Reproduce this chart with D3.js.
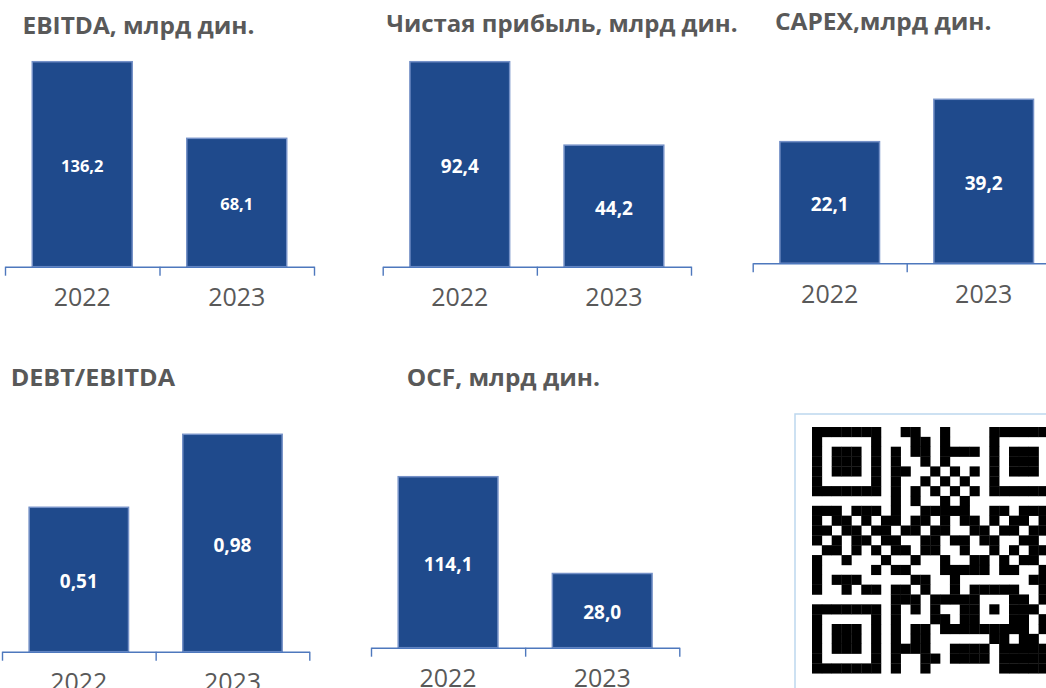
<!DOCTYPE html>
<html>
<head>
<meta charset="utf-8">
<script src="https://cdnjs.cloudflare.com/ajax/libs/d3/7.8.5/d3.min.js"></script>
<style>
    body { margin: 0; background: #fff; }
    #svg_map { width: 1046px; height: 688px; overflow: hidden; }
</style>
</head>
<body>
<div id="svg_map"></div>
<script>
// данные
var years = ["2022", "2023"];
var titles = ["EBITDA, млрд дин.", "Чистая прибыль, млрд дин.", "CAPEX,млрд дин.", "DEBT/EBITDA", "OCF, млрд дин."];
var ebitda = [136.2, 68.1];
var netProfit = [92.4, 44.2];
var capex = [22.1, 39.2];
var debtEbitda = [0.51, 0.98];
var ocf = [114.1, 28.0];
var axisMin = [-46, -26, -27, -0.42, -38];   // ось не от нуля
var decimals = [1, 1, 1, 2, 1];

// QR-код 25x25, справа обрезан краем
var qrRows = [
    "1111111001100100001111111",
    "1000001000110100001000001",
    "1011101010110111101011101",
    "1011101010010100001011101",
    "1011101011001010101011101",
    "1000001010010101001000001",
    "1111111010101010101111111",
    "0000000010100101000000000",
    "1110111010011111001101110",
    "1011010110110101101011010",
    "1101101101101100110110110",
    "1010110110011011011001101",
    "0110101011011001001010110",
    "1001000100100100110101101",
    "1000001011000111110110011",
    "1011100000110010000000111",
    "1001011011010010111110011",
    "0000000011101111100011010",
    "1111111010101001101011101",
    "1000001010001101100011010",
    "1011101010110111111111011",
    "1011101010110000001101100",
    "1011101011110011110111111",
    "1000001010011011110111110",
    "1111111010010000000111111"
];

// расположение панелей
var panels = [
    {values: ebitda,     x0: 5,     x1: 314,    axisY: 266.7, top: 61.7,  titleX: 22.5,  titleY: 33.5,  tw: 232,   vSize: 16.5},
    {values: netProfit,  x0: 382.7, x1: 691,    axisY: 266.7, top: 61.7,  titleX: 386.5, titleY: 31.7,  tw: 351,   vSize: 19},
    {values: capex,      x0: 752.7, x1: 1060.7, axisY: 263.3, top: 99.3,  titleX: 775,   titleY: 30,    tw: 216.5, vSize: 19},
    {values: debtEbitda, x0: 2,     x1: 309.3,  axisY: 651.7, top: 434.3, titleX: 10.7,  titleY: 385.7, tw: 164.3, vSize: 19},
    {values: ocf,        x0: 371,   x1: 679.3,  axisY: 647.7, top: 476.7, titleX: 406.7, titleY: 385.7, tw: 193.3, vSize: 19}
];

var locale = d3.formatLocale({decimal: ",", thousands: " ", grouping: [3], currency: ["", ""]});

var width = 1046, height = 688;
var svg = d3.select("#svg_map").append("svg")
    .attr("width", width)
    .attr("height", height)
    .style("font-family", "'Open Sans', 'Noto Sans', sans-serif");

// QR блок
var qr = svg.append("g");
qr.append("rect")
    .attr("x", 795).attr("y", 414)
    .attr("width", 270).attr("height", 300)
    .attr("fill", "#fff")
    .attr("stroke", "#bdd7ee")
    .attr("stroke-width", 1.5);
var cell = 9.85;
var qx = d3.scaleLinear().domain([0, 1]).range([812, 812 + cell]);
var qy = d3.scaleLinear().domain([0, 1]).range([427, 427 + cell]);
var qrCells = [];
qrRows.forEach(function(row, r){
    for (var c = 0; c < 25; c++) {
        if (row[c] === "1") qrCells.push({r: r, c: c});
    }
});
qr.selectAll("rect.m")
    .data(qrCells)
    .enter()
    .append("rect")
    .attr("class", "m")
    .attr("x", function(d){ return qx(d.c); })
    .attr("y", function(d){ return qy(d.r); })
    .attr("width", cell + 0.3)
    .attr("height", cell + 0.3)
    .attr("fill", "#000");

panels.forEach(function(p, i){
    var g = svg.append("g");

    var x = d3.scaleBand()
        .domain(years)
        .range([p.x0, p.x1])
        .paddingInner(0.353)
        .paddingOuter(0.1765);

    var y = d3.scaleLinear()
        .domain([axisMin[i], d3.max(p.values)])
        .range([p.axisY, p.top]);

    var fmt = locale.format("." + decimals[i] + "f");

    // заголовок
    g.append("text")
        .attr("x", p.titleX)
        .attr("y", p.titleY)
        .attr("font-size", 23)
        .attr("font-weight", "bold")
        .attr("fill", "#595959")
        .attr("textLength", p.tw)
        .attr("lengthAdjust", "spacingAndGlyphs")
        .text(titles[i]);

    // столбцы
    g.selectAll("rect.bar")
        .data(p.values)
        .enter()
        .append("rect")
        .attr("class", "bar")
        .attr("x", function(d, j){ return x(years[j]); })
        .attr("y", function(d){ return y(d); })
        .attr("width", x.bandwidth())
        .attr("height", function(d){ return y(axisMin[i]) - y(d); })
        .attr("fill", "#1f4a8c")
        .attr("stroke", "#7591c7")
        .attr("stroke-width", 1.5);

    g.selectAll("text.val")
        .data(p.values)
        .enter()
        .append("text")
        .attr("class", "val")
        .attr("x", function(d, j){ return x(years[j]) + x.bandwidth() / 2; })
        .attr("y", function(d){ return (y(d) + y(axisMin[i])) / 2 + 2; })
        .attr("dy", "0.35em")
        .attr("text-anchor", "middle")
        .attr("font-size", p.vSize)
        .attr("font-weight", "bold")
        .attr("fill", "#fff")
        .text(function(d){ return fmt(d); });

    // ось X: линия и риски на границах категорий
    var edge = d3.scaleLinear().domain([0, 2]).range([p.x0, p.x1]);
    var tickAxis = g.append("g")
        .attr("transform", "translate(0," + p.axisY + ")")
        .call(d3.axisBottom(edge).tickValues([0, 1, 2]).tickFormat("").tickSizeInner(9).tickSizeOuter(0));
    tickAxis.selectAll("path, line")
        .attr("stroke", "#4e78bd")
        .attr("stroke-width", 1.4);

    var labelAxis = g.append("g")
        .attr("transform", "translate(0," + p.axisY + ")")
        .call(d3.axisBottom(x).tickSize(0));
    labelAxis.select(".domain").remove();
    labelAxis.selectAll("text")
        .attr("dy", null)
        .attr("y", 39.5)
        .attr("font-size", 25)
        .attr("font-family", "'Open Sans', 'Noto Sans', sans-serif")
        .attr("fill", "#595959");
});
</script>
</body>
</html>
